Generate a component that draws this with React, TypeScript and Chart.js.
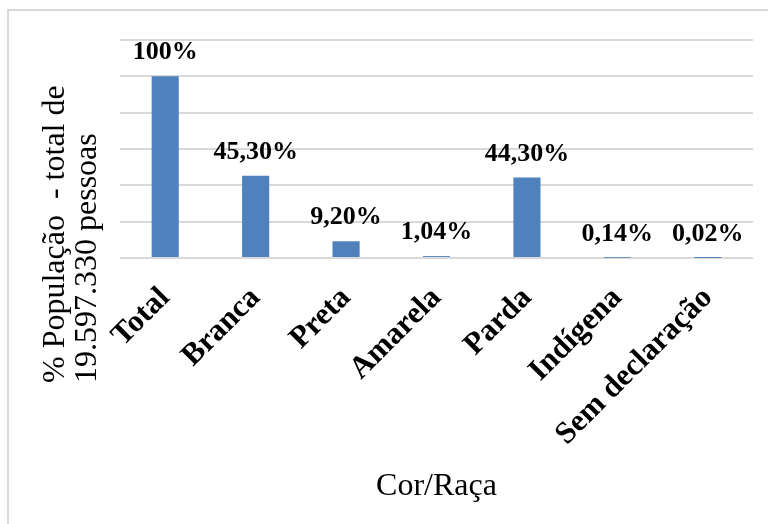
import React, { useEffect, useRef } from "react";
import { Chart, registerables } from "chart.js";

Chart.register(...registerables);

const categories = ["Total", "Branca", "Preta", "Amarela", "Parda", "Indígena", "Sem declaração"];
const percentages = [100, 45.3, 9.2, 1.04, 44.3, 0.14, 0.02];
const yTicks = { min: 0, max: 120, step: 20 };
const yTitleLines = ["% População  - total de", "19.597.330 pessoas"];
const xTitle = "Cor/Raça";

const SERIF = "'Liberation Serif', 'Times New Roman', serif";
const BAR_BLUE = "#4f81bd";
const GRID_GREY = "#d9d9d9";

function formatPct(v: number): string {
  if (Number.isInteger(v)) return `${v}%`;
  return `${v.toFixed(2).replace(".", ",")}%`;
}

// Draws value labels above bars plus both axis titles.
const annotations = {
  id: "annotations",
  afterDatasetsDraw(chart: any) {
    const { ctx, chartArea } = chart;
    const meta = chart.getDatasetMeta(0);
    ctx.save();
    ctx.fillStyle = "#000";
    ctx.font = `bold 26px ${SERIF}`;
    ctx.textAlign = "center";
    ctx.textBaseline = "alphabetic";
    meta.data.forEach((bar: any, i: number) => {
      ctx.fillText(formatPct(percentages[i]), bar.x, bar.y - 17);
    });

    // x-axis title
    ctx.font = `32px ${SERIF}`;
    ctx.textAlign = "center";
    ctx.fillText(xTitle, (chartArea.left + chartArea.right) / 2, 495);

    // y-axis title, rotated, lines left-aligned from the bottom
    ctx.save();
    ctx.translate(64, 383);
    ctx.rotate(-Math.PI / 2);
    ctx.textAlign = "left";
    ctx.font = `32px ${SERIF}`;
    yTitleLines.forEach((line, i) => {
      ctx.fillText(line, 0, i * 32);
    });
    ctx.restore();
    ctx.restore();
  },
};

export default function App() {
  const canvasRef = useRef<HTMLCanvasElement | null>(null);

  useEffect(() => {
    const canvas = canvasRef.current;
    if (!canvas) return;
    const chart = new Chart(canvas, {
      type: "bar",
      data: {
        labels: categories,
        datasets: [
          {
            data: percentages,
            backgroundColor: BAR_BLUE,
            borderWidth: 0,
            barPercentage: 0.3,
            categoryPercentage: 1,
          },
        ],
      },
      options: {
        responsive: false,
        animation: false,
        devicePixelRatio: 1,
        layout: { padding: { left: 120, top: 40, right: 15, bottom: 0 } },
        plugins: {
          legend: { display: false },
          tooltip: { enabled: false },
          title: { display: false },
        },
        scales: {
          x: {
            grid: { display: false },
            border: { display: false },
            ticks: {
              autoSkip: false,
              minRotation: 45,
              maxRotation: 45,
              color: "#000",
              padding: 14,
              font: { family: SERIF, size: 31, weight: "bold" },
            },
            afterFit(scale: any) {
              scale.height = 266;
            },
          },
          y: {
            min: yTicks.min,
            max: yTicks.max,
            ticks: { display: false, stepSize: yTicks.step },
            grid: { color: GRID_GREY, lineWidth: 2, drawTicks: false },
            border: { display: false },
            afterFit(scale: any) {
              scale.width = 0;
            },
          },
        },
      },
      plugins: [annotations],
    });
    return () => chart.destroy();
  }, []);

  return (
    <div
      style={{
        position: "fixed",
        left: 0,
        top: 0,
        width: 768,
        height: 524,
        overflow: "hidden",
        background: "#fff",
      }}
    >
      <div
        style={{
          position: "absolute",
          left: 7,
          top: 9,
          width: 900,
          height: 700,
          border: `2px solid ${GRID_GREY}`,
          boxSizing: "border-box",
        }}
      />
      <canvas
        ref={canvasRef}
        width={768}
        height={524}
        style={{ position: "absolute", left: 0, top: 0, width: 768, height: 524 }}
      />
    </div>
  );
}
